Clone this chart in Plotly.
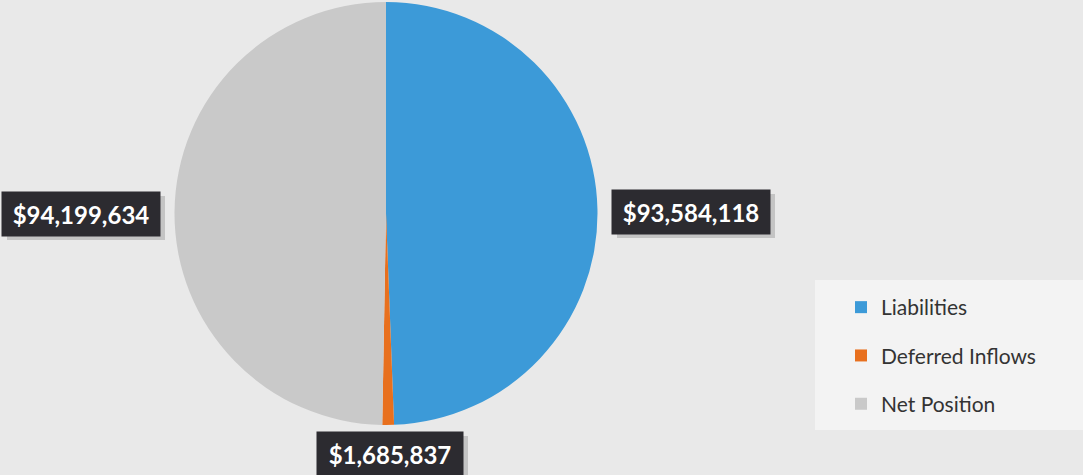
import plotly.graph_objects as go

# Statement of net position components
categories = ["Liabilities", "Deferred Inflows", "Net Position"]
values = [93584118, 1685837, 94199634]
colors = ["#3c9ad8", "#e8701e", "#c9c9c9"]

W, H = 1083, 475

fig = go.Figure()

fig.add_trace(go.Pie(
    labels=categories,
    values=values,
    marker=dict(colors=colors, line=dict(width=0)),
    sort=False,
    direction="clockwise",
    rotation=0,
    textinfo="none",
    hoverinfo="label+value",
    showlegend=False,
    domain=dict(x=[174 / W, 598 / W], y=[50 / H, 473 / H]),
))

# Legend entries as grouped marker traces so the item spacing can be widened
for name, col in zip(categories, colors):
    fig.add_trace(go.Scatter(
        x=[None], y=[None], mode="markers", name=name,
        legendgroup=name,
        marker=dict(symbol="square", size=12, color=col),
    ))

# Value labels in dark boxes, one per slice: centre and half-size of each box
label_box = {
    "Liabilities": (691, 212, 79, 22),
    "Deferred Inflows": (390, 454, 73, 22),
    "Net Position": (81, 214, 79, 22),
}
shapes = [dict(
    type="rect", xref="paper", yref="paper",
    x0=815 / W, x1=1.0, y0=1 - 430 / H, y1=1 - 280 / H,
    fillcolor="#f3f3f3", line=dict(width=0), layer="below",
)]
for name, v in zip(categories, values):
    cx, cy, hw, hh = label_box[name]
    # soft drop shadow behind the box
    shapes.append(dict(
        type="rect", xref="paper", yref="paper",
        x0=(cx - hw + 5) / W, x1=(cx + hw + 5) / W,
        y0=1 - (cy + hh + 4) / H, y1=1 - (cy - hh + 4) / H,
        fillcolor="rgba(150,150,150,0.45)", line=dict(width=0), layer="above",
    ))
    fig.add_annotation(
        x=cx / W, y=1 - cy / H, xref="paper", yref="paper",
        text="${:,}".format(v), showarrow=False,
        xanchor="center", yanchor="middle",
        width=2 * hw, height=2 * hh, align="center", valign="middle",
        font=dict(family="Lato", size=24, color="#ffffff", weight="bold"),
        bgcolor="#2c2b30", borderpad=0,
    )

fig.update_layout(
    width=W, height=H,
    margin=dict(l=0, r=0, t=0, b=0),
    paper_bgcolor="#e9e9e9",
    plot_bgcolor="rgba(0,0,0,0)",
    xaxis=dict(visible=False),
    yaxis=dict(visible=False),
    shapes=shapes,
    legend=dict(
        x=841 / W, y=1 - 287 / H, xanchor="left", yanchor="top",
        bgcolor="rgba(0,0,0,0)",
        font=dict(family="Lato", size=21, color="#333333"),
        tracegroupgap=18,
        itemwidth=30,
    ),
)

fig.write_html("out.html")
